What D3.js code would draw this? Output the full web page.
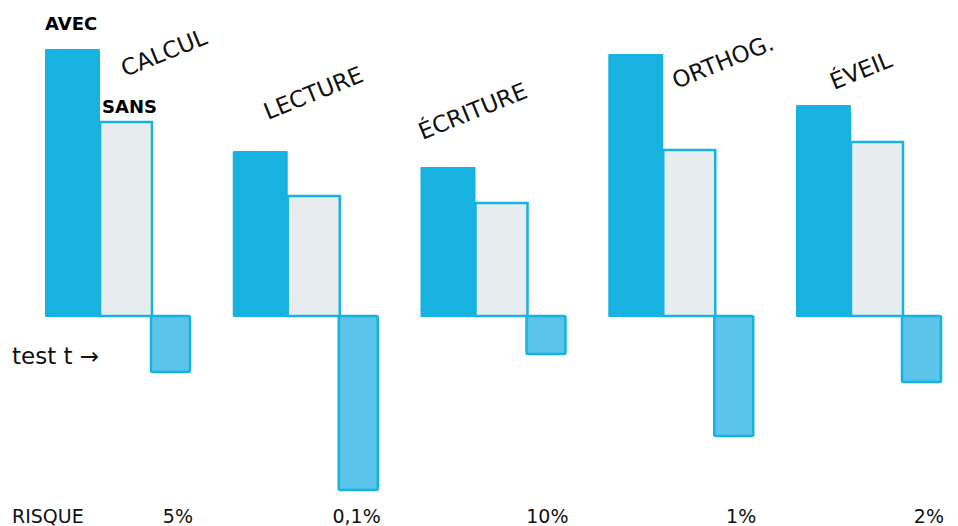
<!DOCTYPE html>
<html>
<head>
<meta charset="utf-8">
<script src="https://cdn.jsdelivr.net/npm/d3@7"></script>
<style>
body { margin: 0; background: #fff; }
</style>
</head>
<body>
<script>
var w = 958;
var h = 526;

var categories = ["CALCUL", "LECTURE", "ÉCRITURE", "ORTHOG.", "ÉVEIL"];
var avec = [26.7, 16.5, 14.9, 26.2, 21.1];
var sans = [19.4, 12.0, 11.3, 16.6, 17.4];
var testT = [5.6, 17.4, 3.8, 12.0, 6.6];
var risque = ["5%", "0,1%", "10%", "1%", "2%"];

// where each slanted title starts: [dx from group left, baseline y]
var titlePos = [[80, 77], [35, 120], [2, 140], [68, 89], [38, 90]];

var cyan = "#17b2e0";
var light = "#5ac4ea";
var grey = "#e7ecee";

var avecW = 55, sansW = 52, testX = 106, testW = 39;

var dataset = categories.map((c, i) => ({
    cat: c,
    avec: avec[i],
    sans: sans[i],
    t: testT[i],
    risque: risque[i],
    pos: titlePos[i]
}));

var xScale = d3.scaleBand()
    .domain(categories)
    .range([45, 45 + 5 * 187.75]);

var yScale = d3.scaleLinear()
    .domain([0, 10])
    .range([316, 216]);

var svg = d3.select("body")
    .append("svg")
    .attr("width", w)
    .attr("height", h)
    .style("font-family", "'DejaVu Sans', sans-serif");

var groups = svg.selectAll("g.grp")
    .data(dataset)
    .enter()
    .append("g")
    .attr("class", "grp")
    .attr("transform", d => `translate(${xScale(d.cat)},0)`);

// test t bars, below the baseline
groups.append("rect")
    .attr("x", testX)
    .attr("y", yScale(0))
    .attr("width", testW)
    .attr("height", d => yScale(-d.t) - yScale(0))
    .attr("rx", 1.5)
    .attr("fill", light)
    .attr("stroke", cyan)
    .attr("stroke-width", 2.5);

// sans
groups.append("rect")
    .attr("x", avecW)
    .attr("y", d => yScale(d.sans))
    .attr("width", sansW)
    .attr("height", d => yScale(0) - yScale(d.sans))
    .attr("fill", grey)
    .attr("stroke", cyan)
    .attr("stroke-width", 2.5);

// avec
groups.append("rect")
    .attr("x", 0)
    .attr("y", d => yScale(d.avec))
    .attr("width", avecW)
    .attr("height", d => yScale(0) - yScale(d.avec) + 1)
    .attr("rx", 1)
    .attr("fill", cyan);

// slanted titles
groups.append("text")
    .attr("transform", d => `translate(${d.pos[0]},${d.pos[1]}) rotate(-22)`)
    .attr("font-size", 23)
    .attr("fill", "#111")
    .text(d => d.cat);

// risque values
groups.append("text")
    .attr("x", testX + testW + 3)
    .attr("y", 523)
    .attr("text-anchor", "end")
    .attr("font-size", 19)
    .attr("fill", "#111")
    .text(d => d.risque);

svg.append("text")
    .attr("x", 45)
    .attr("y", 30)
    .attr("font-size", 18)
    .attr("font-weight", "bold")
    .attr("fill", "#000")
    .text("AVEC");

svg.append("text")
    .attr("x", 102)
    .attr("y", 113)
    .attr("font-size", 18)
    .attr("font-weight", "bold")
    .attr("fill", "#000")
    .text("SANS");

svg.append("text")
    .attr("x", 12)
    .attr("y", 364)
    .attr("font-size", 23)
    .attr("fill", "#111")
    .text("test t →");

svg.append("text")
    .attr("x", 12)
    .attr("y", 523)
    .attr("font-size", 19)
    .attr("fill", "#111")
    .text("RISQUE");
</script>
</body>
</html>
